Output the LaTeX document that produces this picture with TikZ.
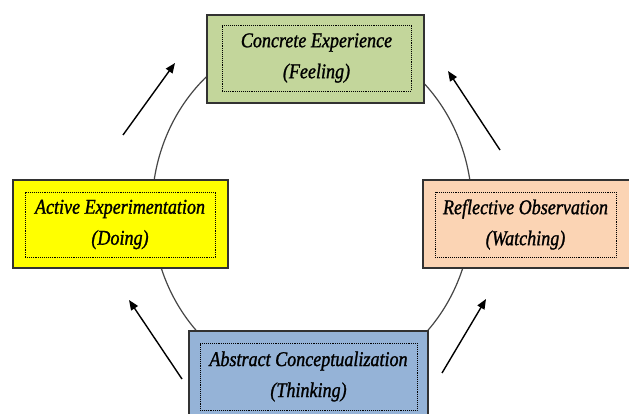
\documentclass[tikz,border=0pt]{standalone}
\usepackage{fontspec}
\newfontfamily\lblfont[FakeStretch=0.86,FakeBold=1.2]{Liberation Serif}
\usetikzlibrary{arrows.meta}
\definecolor{cegreen}{RGB}{195,214,155}
\definecolor{aeyellow}{RGB}{255,255,0}
\definecolor{ropeach}{RGB}{251,212,180}
\definecolor{acblue}{RGB}{149,179,215}
\definecolor{edgegray}{RGB}{50,50,50}
\definecolor{ringgray}{RGB}{70,70,70}
\tikzset{
  outerbox/.style={draw=edgegray, line width=1.6pt, inner sep=0pt},
  innerbox/.style={draw=black, densely dotted, line width=0.9pt, inner sep=0pt, align=center,
    font=\lblfont\itshape\fontsize{21}{31}\selectfont},
  cyclearrow/.style={draw=black, line width=1.4pt, -{Triangle[length=10pt,width=8pt]}},
  ring/.style={draw=ringgray, line width=1.2pt}
}
\begin{document}
\begin{tikzpicture}[x=1pt,y=-1pt]
\useasboundingbox (0,0) rectangle (629,414);
\fill[white] (0,0) rectangle (629,414);
% ring behind boxes
\coordinate (ringc) at (312,209);
\draw[ring] (ringc) ellipse [x radius=160, y radius=176];
% boxes
\node[outerbox, fill=cegreen, minimum width=217pt, minimum height=88pt] (ce) at (315.5,59) {};
\node[innerbox, minimum width=189pt, minimum height=66pt] (cet) at (316.5,58) {Concrete Experience\\(Feeling)};
\node[outerbox, fill=aeyellow, minimum width=215pt, minimum height=88pt] (ae) at (120.5,224) {};
\node[innerbox, minimum width=190pt, minimum height=65pt] (aet) at (120,224.5) {Active Experimentation\\(Doing)};
\node[outerbox, fill=ropeach, minimum width=210pt, minimum height=88pt] (ro) at (528,224) {};
\node[innerbox, minimum width=181pt, minimum height=65pt] (rot) at (525.5,224.5) {Reflective Observation\\(Watching)};
\node[outerbox, fill=acblue, minimum width=239pt, minimum height=92pt] (ac) at (308.5,377) {};
\node[innerbox, minimum width=217pt, minimum height=67pt] (act) at (308.5,376.5) {Abstract Conceptualization\\(Thinking)};
% arrows
\coordinate (a1s) at (123,135); \coordinate (a1e) at (175,63);
\coordinate (a2s) at (500,150); \coordinate (a2e) at (448,71);
\coordinate (a3s) at (182,379); \coordinate (a3e) at (129,300);
\coordinate (a4s) at (442,373); \coordinate (a4e) at (486,299);
\draw[cyclearrow] (a1s) -- (a1e);
\draw[cyclearrow] (a2s) -- (a2e);
\draw[cyclearrow] (a3s) -- (a3e);
\draw[cyclearrow] (a4s) -- (a4e);
\end{tikzpicture}
\end{document}
